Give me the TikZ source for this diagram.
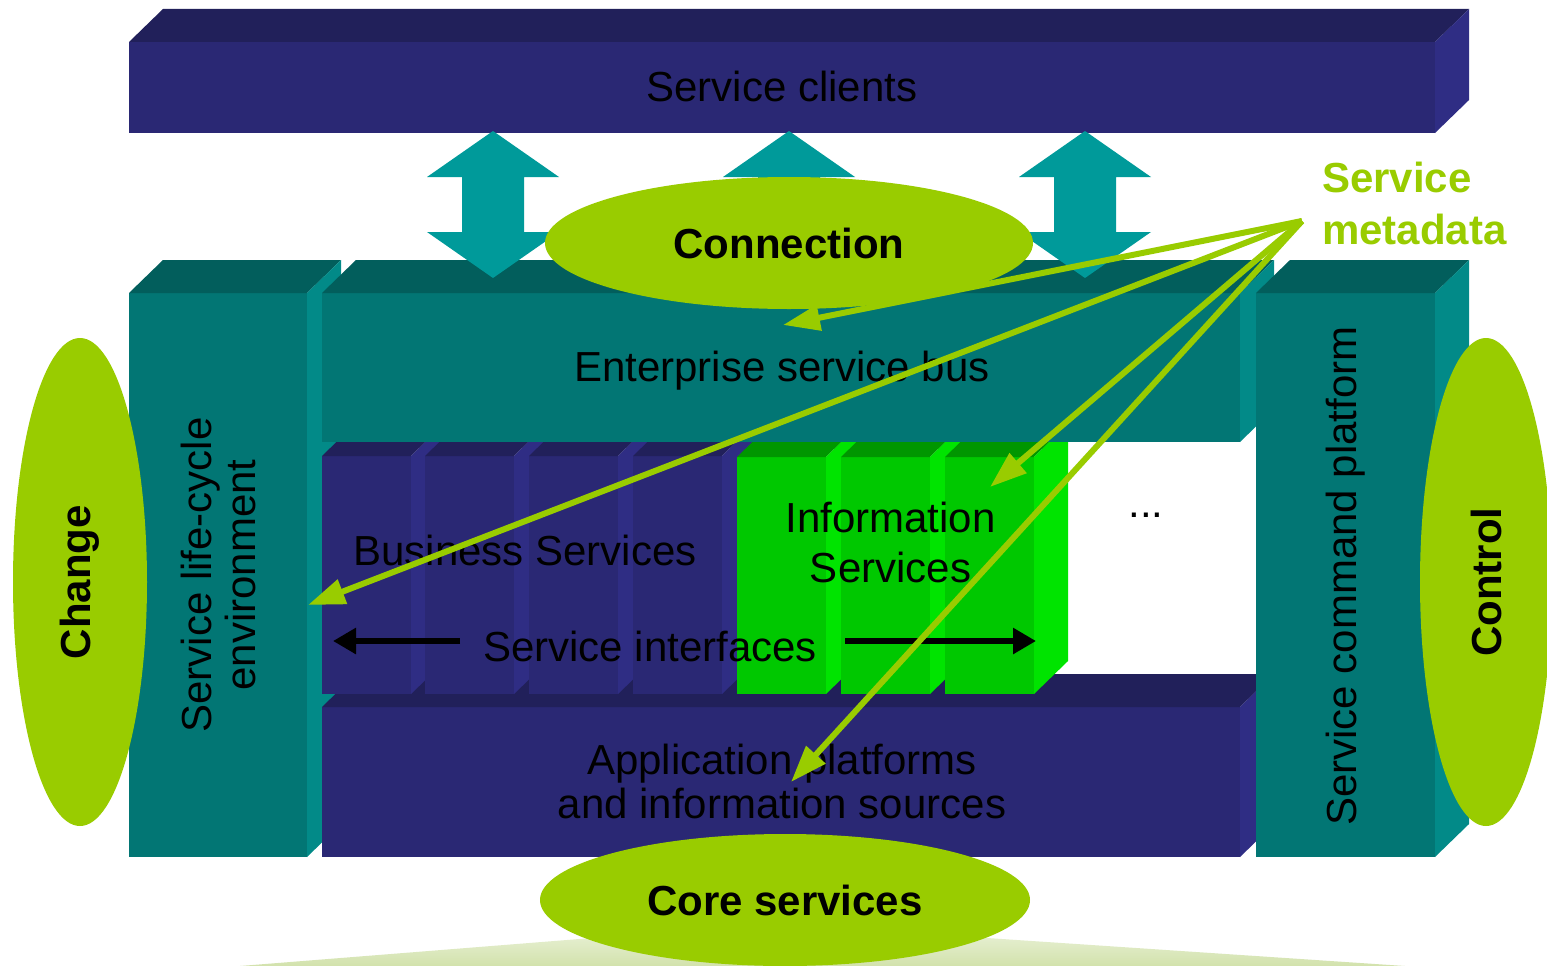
\documentclass[tikz,border=0pt]{standalone}
\usepackage{fontspec}
\setmainfont{Liberation Sans}
\usetikzlibrary{arrows.meta,shapes.geometric}
\definecolor{navyF}{RGB}{42,40,116}
\definecolor{navyT}{RGB}{33,32,90}
\definecolor{navyS}{RGB}{47,45,132}
\definecolor{tealF}{RGB}{2,118,116}
\definecolor{tealT}{RGB}{2,94,92}
\definecolor{tealS}{RGB}{2,138,136}
\definecolor{grnF}{RGB}{0,200,0}
\definecolor{grnT}{RGB}{0,150,0}
\definecolor{grnS}{RGB}{0,228,0}
\definecolor{arrT}{RGB}{0,154,154}
\definecolor{lime}{RGB}{153,204,0}
\definecolor{floorc}{RGB}{210,226,172}

% front face as a named node, then its top and right faces
\newcommand\cuboid[8]{%
  \node[face, fill=#6, minimum width=#4pt, minimum height=#5pt] (#1) at (#2,#3) {};
  \fill[#7] (#1.north west) -- ++(34,-33) -- ([shift={(34,-33)}]#1.north east) -- (#1.north east) -- cycle;
  \fill[#8] (#1.north east) -- ++(34,-33) -- ([shift={(34,-33)}]#1.south east) -- (#1.south east) -- cycle;
}
% vertical double block arrow centred on x
\newcommand\dblarrow[1]{%
  \fill[arrT] (#1,131) -- ({#1+66},177) -- ({#1+31},177) -- ({#1+31},232) -- ({#1+66},232)
    -- (#1,278) -- ({#1-66},232) -- ({#1-31},232) -- ({#1-31},177) -- ({#1-66},177) -- cycle;
}

\begin{document}
\begin{tikzpicture}[x=1pt,y=-1pt,
  face/.style={rectangle, inner sep=0pt, outer sep=0pt, anchor=north west, draw=none},
  lbl/.style={inner sep=0pt, outer sep=0pt, text=black, font=\fontsize{42}{48}\selectfont},
  oval/.style={ellipse, fill=lime, inner sep=0pt, text=black, font=\fontsize{42}{48}\selectfont\bfseries},
  metaarrow/.style={draw=lime, line width=6pt, -{Triangle[length=37pt,width=25pt]}},
  ifarrow/.style={draw=black, line width=6pt, -{Triangle[length=23pt,width=25pt]}}
]
\useasboundingbox (0,0) rectangle (1547,966);
\clip (0,0) rectangle (1547,966);
\fill[white] (0,0) rectangle (1547,966);

% floor
\shade[top color=floorc!60, bottom color=floorc] (240,966) -- (592,938) -- (987,938) -- (1405,966) -- cycle;

% blocks (back to front)
\cuboid{slc}{129}{293}{178}{564}{tealF}{tealT}{tealS}
\cuboid{app}{322}{707}{918}{150}{navyF}{navyT}{navyS}
\cuboid{bs1}{322}{456}{89}{238}{navyF}{navyT}{navyS}
\cuboid{bs2}{425}{456}{89}{238}{navyF}{navyT}{navyS}
\cuboid{bs3}{529}{456}{89}{238}{navyF}{navyT}{navyS}
\cuboid{bs4}{633}{456}{89}{238}{navyF}{navyT}{navyS}
\cuboid{is1}{737}{457}{89}{237}{grnF}{grnT}{grnS}
\cuboid{is2}{841}{457}{89}{237}{grnF}{grnT}{grnS}
\cuboid{is3}{945}{457}{89}{237}{grnF}{grnT}{grnS}
\cuboid{esb}{322}{293}{918}{149}{tealF}{tealT}{tealS}
\cuboid{scp}{1256}{293}{179}{564}{tealF}{tealT}{tealS}
\cuboid{clients}{129}{42}{1306}{91}{navyF}{navyT}{navyS}

% labels
\node[lbl, anchor=base] (tclients) at (782,101) {Service clients};
\node[lbl, anchor=base] (tesb) at (782,381) {Enterprise service bus};
\node[lbl, anchor=base] (tbus) at (525,565) {Business Services};
\node[lbl, align=center, font=\fontsize{42}{50}\selectfont] (tinfo) at (890.5,542.5) {Information\\Services};
\node[lbl, anchor=base] (tdots) at (1146,517) {...};
\node[lbl, anchor=base] (tsi) at (650,661) {Service interfaces};
\node[lbl, align=center, font=\fontsize{42}{44}\selectfont] (tapp) at (782,781) {Application platforms\\and information sources};
\node[lbl, rotate=90, align=center, font=\fontsize{42}{44}\selectfont] (tslc) at (218,575) {Service life-cycle\\environment};
\node[lbl, rotate=90, anchor=base] (tscp) at (1356,576) {Service command platform};
\node[lbl, text=lime, align=left, anchor=west, font=\fontsize{42}{52}\selectfont\bfseries] (tmeta) at (1322,203) {Service\\metadata};

% connection arrows between clients and bus
\dblarrow{493}
\dblarrow{789}
\dblarrow{1085}

% service interface arrows
\coordinate (siL1) at (460,641);
\coordinate (siL2) at (333,641);
\coordinate (siR1) at (845,641);
\coordinate (siR2) at (1036,641);
\draw[ifarrow] (siL1) -- (siL2);
\draw[ifarrow] (siR1) -- (siR2);

% service metadata arrows
\coordinate (fan) at (1302,221);
\coordinate (mESB) at (783,325);
\coordinate (mSLC) at (308,605);
\coordinate (mINF) at (990,487);
\coordinate (mAPP) at (791,782);
\draw[metaarrow] (fan) -- (mESB);
\draw[metaarrow] (fan) -- (mSLC);
\draw[metaarrow] (fan) -- (mINF);
\draw[metaarrow] (fan) -- (mAPP);

% ovals
\node[oval, minimum width=488pt, minimum height=132pt] (conn) at (789,243) {Connection};
\node[oval, minimum width=490pt, minimum height=132pt] (core) at (785,900) {Core services};
\node[oval, rotate=90, minimum width=488pt, minimum height=134pt] (change) at (80,582) {Change};
\node[oval, rotate=90, minimum width=488pt, minimum height=132pt] (control) at (1486,582) {Control};
\end{tikzpicture}
\end{document}
